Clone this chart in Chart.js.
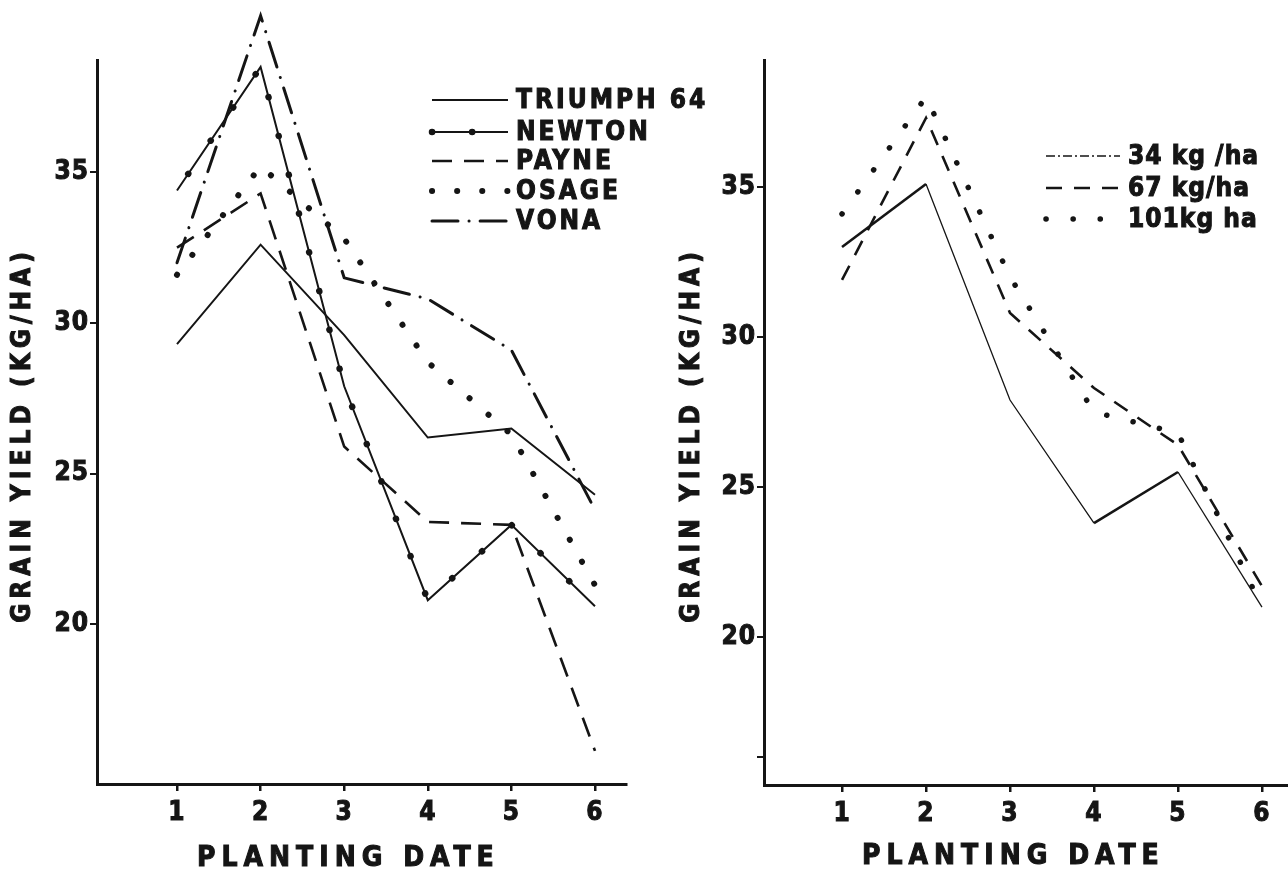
<!DOCTYPE html>
<html>
<head>
<meta charset="utf-8">
<title>Grain yield by planting date</title>
<script src="https://cdn.jsdelivr.net/npm/chart.js@4.4.1/dist/chart.umd.min.js"></script>
<style>
  html, body { margin: 0; padding: 0; background: #fff; }
  body { width: 1288px; height: 871px; position: relative; overflow: hidden; }
  .panel { position: absolute; top: 0; height: 871px; }
  #left { left: 0; width: 770px; }
  #right { left: 650px; width: 638px; }
</style>
</head>
<body>
<div class="panel" id="left"><canvas id="varietyChart"></canvas></div>
<div class="panel" id="right"><canvas id="rateChart"></canvas></div>
<script>
// x axis: planting dates
const plantingDates = [1, 2, 3, 4, 5, 6]
const yTicks = [20, 25, 30, 35]
const rightYTicks = [16, 20, 25, 30, 35]
const rightYLabels = ["", "20", "25", "30", "35"]

// left panel - grain yield per variety
const varieties = ["TRIUMPH 64", "NEWTON", "PAYNE", "OSAGE", "VONA"]
const triumph64 = [29.3, 32.6, 29.6, 26.2, 26.5, 24.3]
const newton = [34.4, 38.5, 27.9, 20.8, 23.3, 20.6]
const payne = [32.5, 34.3, 25.9, 23.4, 23.3, 15.8]
const osage = [31.6, 35.2, 32.8, 28.7, 26.3, 21.3]
const vona = [32.0, 40.2, 31.5, 30.8, 29.1, 23.8]

// right panel - grain yield per seeding rate
const rates = ["34 kg /ha", "67 kg/ha", "101kg ha"]
const rate34 = [33.0, 35.1, 27.9, 23.8, 25.5, 21.0]
const rate67 = [31.9, 37.3, 30.8, 28.3, 26.4, 21.7]
const rate101 = [34.1, 38.0, 32.0, 27.5, 26.8, 21.0]

const INK = "#151515"
const FONT = '"Liberation Sans Narrow", "DejaVu Sans Condensed", "Arial Narrow", sans-serif'

const toPoints = (values) => values.map((v, i) => ({ x: plantingDates[i], y: v }))

// heavy lettering: fill + thin stroke
function heavyText(ctx, text, x, y) {
  ctx.fillText(text, x, y)
  ctx.strokeText(text, x, y)
}

// titles + legend drawn with letter spacing like the old lettering
const paperText = {
  id: "paperText",
  beforeDraw(chart) {
    chart.ctx.letterSpacing = "1px"
  },
  afterDraw(chart, args, opts) {
    const ctx = chart.ctx
    ctx.save()
    ctx.fillStyle = INK
    ctx.strokeStyle = INK
    ctx.lineWidth = 1
    ctx.textBaseline = "middle"

    // x title
    ctx.font = `bold 28px ${FONT}`
    ctx.letterSpacing = opts.xSpacing
    ctx.textAlign = "left"
    heavyText(ctx, opts.xTitle, opts.xTitlePos[0], opts.xTitlePos[1])

    // y title, rotated
    ctx.save()
    ctx.translate(opts.yTitlePos[0], opts.yTitlePos[1])
    ctx.rotate(-Math.PI / 2)
    ctx.font = `bold 26px ${FONT}`
    ctx.letterSpacing = opts.ySpacing
    ctx.textAlign = "center"
    heavyText(ctx, opts.yTitle, 0, 0)
    ctx.restore()

    // legend
    const lg = opts.legend
    const datasets = chart.data.datasets
    const drawSample = (ds, y) => {
      ctx.beginPath()
      ctx.setLineDash(ds.legendDash || ds.borderDash || [])
      ctx.lineWidth = ds.legendWidth || ds.borderWidth
      ctx.lineCap = ds.borderCapStyle || "butt"
      ctx.moveTo(lg.x0, y)
      ctx.lineTo(lg.x1, y)
      ctx.stroke()
    }
    datasets.forEach((ds, i) => {
      if (ds.legendOf) return
      const y = lg.rows[i]
      drawSample(ds, y)
      datasets.filter((h) => h.legendOf === ds.label).forEach((h) => drawSample(h, y))
      ctx.setLineDash([])
      ctx.lineWidth = 1
      ctx.font = `bold ${lg.size}px ${FONT}`
      ctx.letterSpacing = lg.spacing
      ctx.textAlign = "left"
      heavyText(ctx, ds.label, lg.textX, y + 1)
    })
    ctx.restore()
  },
}

function buildScales(cfg) {
  const tickFont = { family: FONT, size: 26, weight: "bold" }
  return {
    x: {
      type: "linear",
      min: cfg.xMin,
      max: cfg.xMax,
      afterBuildTicks: (scale) => {
        scale.ticks = plantingDates.map((v) => ({ value: v }))
      },
      afterFit: (scale) => {
        scale.height = cfg.xHeight
      },
      ticks: {
        color: INK,
        padding: 7,
        font: tickFont,
        textStrokeColor: INK,
        textStrokeWidth: 1,
        callback: (v) => String(v),
      },
      grid: { drawOnChartArea: false, drawTicks: true, tickLength: 7, lineWidth: 2.5, color: INK },
      border: { display: true, width: 3, color: INK },
    },
    y: {
      type: "linear",
      min: cfg.yMin,
      max: cfg.yMax,
      afterBuildTicks: (scale) => {
        scale.ticks = cfg.yTicks.map((v) => ({ value: v }))
      },
      afterFit: (scale) => {
        scale.width = cfg.yWidth
      },
      ticks: {
        color: INK,
        padding: 1,
        font: tickFont,
        textStrokeColor: INK,
        textStrokeWidth: 1,
        callback: (v) => {
          const i = cfg.yTicks.indexOf(v)
          return cfg.yLabels ? cfg.yLabels[i] : String(v)
        },
      },
      grid: { drawOnChartArea: false, drawTicks: true, tickLength: 7, lineWidth: 2, color: INK },
      border: { display: true, width: 3, color: INK },
    },
  }
}

const baseDataset = {
  borderColor: INK,
  backgroundColor: INK,
  pointRadius: 0,
  pointHoverRadius: 0,
  tension: 0,
  fill: false,
  clip: false,
}

// left chart - varieties
new Chart(document.getElementById("varietyChart"), {
  type: "line",
  data: {
    datasets: [
      { ...baseDataset, label: varieties[0], data: toPoints(triumph64), borderWidth: 2 },
      { ...baseDataset, label: varieties[1], data: toPoints(newton), borderWidth: 2 },
      { ...baseDataset, label: varieties[2], data: toPoints(payne), borderWidth: 2.6, borderDash: [20, 12] },
      { ...baseDataset, label: varieties[3], data: toPoints(osage), borderWidth: 6, borderDash: [0.1, 25], borderCapStyle: "round" },
      { ...baseDataset, label: varieties[4], data: toPoints(vona), borderWidth: 3, borderDash: [26, 11, 0.1, 11], borderCapStyle: "round" },
      // dots strung along the newton line
      { ...baseDataset, label: "newton-dots", legendOf: varieties[1], data: toPoints(newton), borderWidth: 6.5, borderDash: [0.1, 40], borderDashOffset: -20, borderCapStyle: "round" },
    ],
  },
  options: {
    responsive: true,
    maintainAspectRatio: false,
    animation: false,
    events: [],
    layout: { padding: { top: 60, right: 144, left: 0, bottom: 0 } },
    scales: buildScales({ xMin: 0.043, xMax: 6.371, yMin: 14.7, yMax: 38.73, yTicks: yTicks, xHeight: 87, yWidth: 97 }),
    plugins: {
      legend: { display: false },
      tooltip: { enabled: false },
      paperText: {
        xTitle: "PLANTING DATE",
        xTitlePos: [197, 859],
        xSpacing: "6px",
        yTitle: "GRAIN YIELD (KG/HA)",
        yTitlePos: [23, 435],
        ySpacing: "5px",
        legend: { x0: 432, x1: 508, textX: 516, rows: [100, 132, 161, 191, 221], size: 26, spacing: "3px" },
      },
    },
  },
  plugins: [paperText],
})

// right chart - seeding rates
const thickSegments = [0, 3]
new Chart(document.getElementById("rateChart"), {
  type: "line",
  data: {
    datasets: [
      {
        ...baseDataset, label: rates[0], data: toPoints(rate34), borderWidth: 1.3,
        segment: { borderWidth: (ctx) => (thickSegments.includes(ctx.p0DataIndex) ? 2.6 : 1.3) },
        legendDash: [9, 3, 2, 3], legendWidth: 1.5,
      },
      { ...baseDataset, label: rates[1], data: toPoints(rate67), borderWidth: 2.6, borderDash: [16, 12] },
      { ...baseDataset, label: rates[2], data: toPoints(rate101), borderWidth: 5.5, borderDash: [0.1, 27], borderCapStyle: "round" },
    ],
  },
  options: {
    responsive: true,
    maintainAspectRatio: false,
    animation: false,
    events: [],
    layout: { padding: { top: 60, right: 0, left: 0, bottom: 0 } },
    scales: buildScales({ xMin: 0.071, xMax: 6.31, yMin: 15.07, yMax: 39.23, yTicks: rightYTicks, yLabels: rightYLabels, xHeight: 86, yWidth: 114 }),
    plugins: {
      legend: { display: false },
      tooltip: { enabled: false },
      paperText: {
        xTitle: "PLANTING DATE",
        xTitlePos: [212, 857],
        xSpacing: "6px",
        yTitle: "GRAIN YIELD (KG/HA)",
        yTitlePos: [42, 435],
        ySpacing: "5px",
        legend: { x0: 396, x1: 470, textX: 478, rows: [156, 188, 219], size: 26, spacing: "1px" },
      },
    },
  },
  plugins: [paperText],
})
</script>
</body>
</html>
